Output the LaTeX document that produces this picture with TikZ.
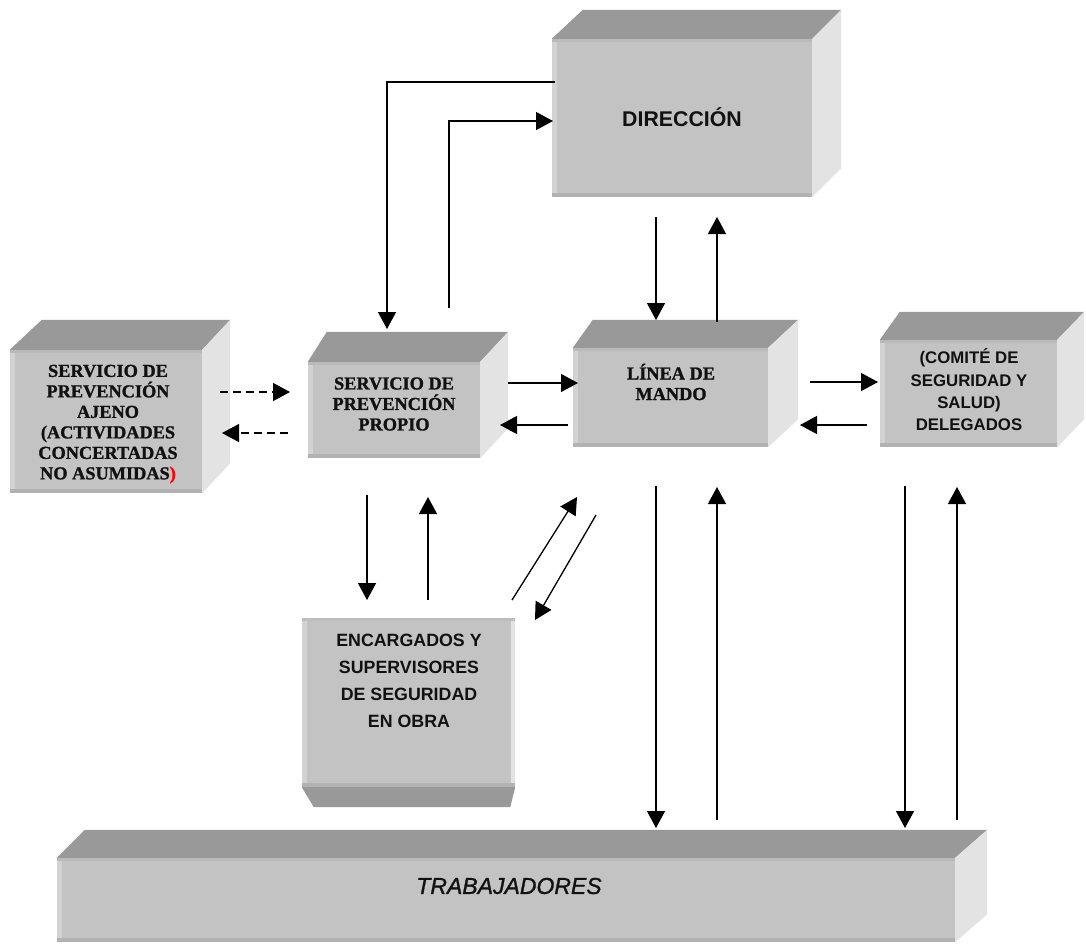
\documentclass[tikz,border=0pt]{standalone}
\usepackage{fontspec}
\newfontfamily\arialf{Liberation Sans}
\newfontfamily\arialm[FakeBold=1.2]{Liberation Sans}
\newfontfamily\tnrf[BoldFeatures={FakeBold=1.2}]{Liberation Serif}
\usetikzlibrary{arrows.meta,calc}
\definecolor{topc}{HTML}{999999}
\definecolor{frontc}{HTML}{C3C3C3}
\definecolor{sidec}{HTML}{E3E3E3}
\definecolor{lstrip}{HTML}{D2D2D2}
\definecolor{bstrip}{HTML}{B2B2B2}
\definecolor{tstrip}{HTML}{BABABA}
\definecolor{inkc}{HTML}{111111}
\newcommand{\cubefaces}[4]{% node, dx left, dx right, dy
  \fill[topc] (#1.north west) -- ++(#2,-#4) -- ($(#1.north east)+(#3,-#4)$) -- (#1.north east) -- cycle;
  \fill[sidec] (#1.north east) -- ++(#3,-#4) -- ($(#1.south east)+(#3,-#4)$) -- (#1.south east) -- cycle;
  \fill[lstrip] (#1.north west) rectangle ($(#1.south west)+(5,0)$);
  \fill[tstrip] (#1.north west) rectangle ($(#1.north east)+(0,3)$);
  \fill[bstrip] ($(#1.south west)+(0,-4)$) rectangle (#1.south east);
}
\tikzset{
  face/.style={fill=frontc, draw=none, inner sep=0pt},
  serifbox/.style={text=inkc, align=center, inner sep=0pt, font=\tnrf\bfseries\fontsize{18.3}{20.5}\selectfont},
  sansbox/.style={text=inkc, align=center, inner sep=0pt, font=\arialf\bfseries\fontsize{16.8}{22.3}\selectfont},
  arr/.style={draw=black, line width=1.3pt, -{Triangle[width=18pt,length=17pt]}},
  darr/.style={arr, dash pattern=on 8pt off 5pt},
}
\begin{document}
\begin{tikzpicture}[x=1pt,y=-1pt]
\useasboundingbox (0,0) rectangle (1086,943);
\fill[white] (0,0) rectangle (1086,943);

% front faces
\node[face, minimum width=260, minimum height=158] (fDir) at (682,118) {};
\node[face, minimum width=192, minimum height=143] (fAje) at (106,421.5) {};
\node[face, minimum width=172, minimum height=96] (fPro) at (394,410) {};
\node[face, minimum width=195, minimum height=99] (fLin) at (670.5,397.5) {};
\node[face, minimum width=177, minimum height=107] (fCom) at (968.5,393.5) {};
\node[face, minimum width=213, minimum height=169] (fEnc) at (408.5,702.5) {};
\node[face, minimum width=898, minimum height=84] (fTra) at (506,900) {};

\cubefaces{fDir}{31}{29}{29}
\cubefaces{fAje}{32}{28}{30}
\cubefaces{fPro}{19}{28}{30}
\cubefaces{fLin}{20}{30}{28}
\cubefaces{fCom}{20}{27}{28}
\cubefaces{fTra}{28}{32}{28}

% encargados: seen from below
\fill[topc] (fEnc.south west) -- (fEnc.south east) -- ++(-5,20) -- ($(fEnc.south west)+(12,20)$) -- cycle;
\fill[lstrip] (fEnc.north west) rectangle ($(fEnc.south west)+(5,0)$);
\fill[sidec] ($(fEnc.north east)+(-4,0)$) rectangle (fEnc.south east);
\fill[tstrip!70!frontc] (fEnc.north west) rectangle ($(fEnc.north east)+(0,3)$);
\fill[bstrip] ($(fEnc.south west)+(0,-4)$) rectangle (fEnc.south east);

% texts
\node[text=inkc, inner sep=0pt, font=\arialf\bfseries\fontsize{21.3}{24}\selectfont] (tDir) at (682,117) {DIRECCIÓN};
\node[serifbox] (tAje) at (108,424) {SERVICIO DE\\PREVENCIÓN\\AJENO\\(ACTIVIDADES\\CONCERTADAS\\NO ASUMIDAS\textcolor{red}{)}};
\node[serifbox] (tPro) at (394,404) {SERVICIO DE\\PREVENCIÓN\\PROPIO};
\node[serifbox] (tLin) at (671,382) {LÍNEA DE\\MANDO};
\node[sansbox] (tCom) at (969,390) {(COMITÉ DE\\SEGURIDAD Y\\SALUD)\\DELEGADOS};
\node[sansbox, font=\arialf\bfseries\fontsize{17.8}{27}\selectfont] (tEnc) at (409,681) {ENCARGADOS Y\\SUPERVISORES\\DE SEGURIDAD\\EN OBRA};
\node[text=inkc, inner sep=0pt, font=\arialm\itshape\fontsize{23}{26}\selectfont] (tTra) at (509,886) {TRABAJADORES};

% connector end points
\coordinate (dirA) at (555,82);
\coordinate (proA) at (387,329);
\coordinate (proB) at (449,308);
\coordinate (dirB) at (553,121);
\coordinate (dirC) at (656,217);
\coordinate (linC) at (656,320);
\coordinate (linD) at (717,322);
\coordinate (dirD) at (717,217);
\coordinate (proE) at (508,383);
\coordinate (linE) at (578,383);
\coordinate (linF) at (568,425);
\coordinate (proF) at (500,425);
\coordinate (ajeG) at (220,392);
\coordinate (proG) at (290,392);
\coordinate (proH) at (288,433);
\coordinate (ajeH) at (222,433);
\coordinate (linI) at (810,382);
\coordinate (comI) at (878,382);
\coordinate (comJ) at (867,425);
\coordinate (linJ) at (800,425);
\coordinate (proK) at (367,495);
\coordinate (encK) at (367,600);
\coordinate (encL) at (428,600);
\coordinate (proL) at (428,497);
\coordinate (encM) at (512,600);
\coordinate (linM) at (577,497);
\coordinate (linN) at (596,515);
\coordinate (encN) at (535,620);
\coordinate (linO) at (656,486);
\coordinate (traO) at (656,828);
\coordinate (traP) at (717,820);
\coordinate (linP) at (717,487);
\coordinate (comQ) at (905,486);
\coordinate (traQ) at (905,828);
\coordinate (traR) at (957,820);
\coordinate (comR) at (957,487);

% connectors
\draw[arr] (dirA) -| (proA);
\draw[arr] (proB) |- (dirB);
\draw[arr] (dirC) -- (linC);
\draw[arr] (linD) -- (dirD);
\draw[arr] (proE) -- (linE);
\draw[arr] (linF) -- (proF);
\draw[darr] (ajeG) -- (proG);
\draw[darr] (proH) -- (ajeH);
\draw[arr] (linI) -- (comI);
\draw[arr] (comJ) -- (linJ);
\draw[arr] (proK) -- (encK);
\draw[arr] (encL) -- (proL);
\draw[arr] (encM) -- (linM);
\draw[arr] (linN) -- (encN);
\draw[arr] (linO) -- (traO);
\draw[arr] (traP) -- (linP);
\draw[arr] (comQ) -- (traQ);
\draw[arr] (traR) -- (comR);
\end{tikzpicture}
\end{document}
